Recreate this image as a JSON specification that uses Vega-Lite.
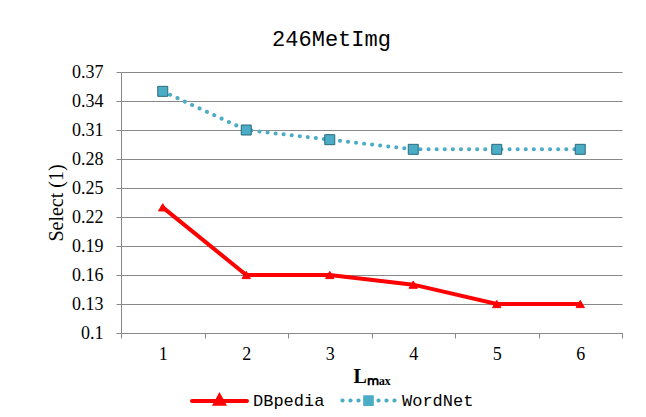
{
  "$schema": "https://vega.github.io/schema/vega-lite/v6.json",
  "autosize": "none",
  "width": 501,
  "height": 261,
  "padding": {"left": 121, "top": 72, "right": 24, "bottom": 84},
  "background": "white",
  "config": {"view": {"stroke": null}},
  "title": {
    "text": "246MetImg",
    "font": "Liberation Mono",
    "fontSize": 22,
    "fontWeight": "normal",
    "color": "black",
    "anchor": "middle",
    "baseline": "alphabetic",
    "offset": -5,
    "dx": -40
  },
  "data": {
    "values": [
      {"x": 1, "series": "DBpedia", "v": 0.23},
      {"x": 2, "series": "DBpedia", "v": 0.16},
      {"x": 3, "series": "DBpedia", "v": 0.16},
      {"x": 4, "series": "DBpedia", "v": 0.15},
      {"x": 5, "series": "DBpedia", "v": 0.13},
      {"x": 6, "series": "DBpedia", "v": 0.13},
      {"x": 1, "series": "WordNet", "v": 0.35},
      {"x": 2, "series": "WordNet", "v": 0.31},
      {"x": 3, "series": "WordNet", "v": 0.30},
      {"x": 4, "series": "WordNet", "v": 0.29},
      {"x": 5, "series": "WordNet", "v": 0.29},
      {"x": 6, "series": "WordNet", "v": 0.29}
    ]
  },
  "encoding": {
    "x": {
      "field": "x",
      "type": "ordinal",
      "scale": {"type": "band", "paddingInner": 0, "paddingOuter": 0},
      "axis": {
        "title": "Lₘₐₓ",
        "titleFont": "Liberation Serif",
        "titleFontSize": 20,
        "titleFontWeight": "bold",
        "titleColor": "black",
        "titlePadding": 3,
        "labelAngle": 0,
        "labelFont": "Liberation Serif",
        "labelFontSize": 18,
        "labelColor": "black",
        "labelPadding": 7,
        "tickBand": "extent",
        "tickSize": 5,
        "tickColor": "#888888",
        "domainColor": "#888888",
        "grid": false
      }
    },
    "y": {
      "field": "v",
      "type": "quantitative",
      "scale": {"domain": [0.1, 0.37], "nice": false, "zero": false},
      "axis": {
        "title": "Select (1)",
        "titleFont": "Liberation Serif",
        "titleFontSize": 20,
        "titleFontWeight": "normal",
        "titleColor": "black",
        "titlePadding": 5,
        "values": [0.1, 0.13, 0.16, 0.19, 0.22, 0.25, 0.28, 0.31, 0.34, 0.37],
        "format": ".2~f",
        "labelFont": "Liberation Serif",
        "labelFontSize": 18,
        "labelColor": "black",
        "labelPadding": 13,
        "tickSize": 5,
        "tickColor": "#888888",
        "domainColor": "#888888",
        "gridColor": "#888888",
        "grid": true
      }
    },
    "color": {
      "field": "series",
      "type": "nominal",
      "scale": {"domain": ["DBpedia", "WordNet"], "range": ["#FF0000", "#4BACC6"]},
      "legend": {
        "title": null,
        "orient": "none",
        "direction": "horizontal",
        "legendX": 69,
        "legendY": 299,
        "symbolSize": 3025,
        "symbolType": "stroke",
        "columnPadding": 9,
        "labelOffset": 4,
        "labelFont": "Liberation Mono",
        "labelFontSize": 17,
        "labelColor": "black",
        "encode": {
          "symbols": {
            "update": {
              "shape": {"signal": "datum.value === 'DBpedia' ? 'M-1,0L1,0M-0.15,0.1L0,-0.17L0.15,0.1Z' : 'M-0.95,0L-0.94,0M-0.66,0L-0.65,0M-0.37,0L-0.36,0M0.36,0L0.37,0M0.65,0L0.66,0M0.94,0L0.95,0M-0.12,-0.12L0.12,-0.12L0.12,0.12L-0.12,0.12Z'"},
              "size": {"value": 3025},
              "fill": {"signal": "datum.value === 'DBpedia' ? '#FF0000' : '#4BACC6'"},
              "stroke": {"signal": "datum.value === 'DBpedia' ? '#FF0000' : '#4BACC6'"},
              "strokeWidth": {"value": 4},
              "strokeCap": {"value": "round"},
              "strokeDash": {"signal": "[]"},
              "fillOpacity": {"value": 1},
              "opacity": {"value": 1}
            }
          }
        }
      }
    }
  },
  "layer": [
    {
      "transform": [{"filter": "datum.series === 'DBpedia'"}],
      "mark": {"type": "line", "strokeCap": "round", "strokeWidth": 4}
    },
    {
      "transform": [{"filter": "datum.series === 'WordNet'"}],
      "mark": {"type": "line", "strokeCap": "round", "strokeWidth": 4, "strokeDash": [0.1, 8]}
    },
    {
      "transform": [{"filter": "datum.series === 'DBpedia'"}],
      "mark": {"type": "point", "shape": "triangle-up", "size": 70, "filled": true, "fill": "#FF0000", "stroke": "#FF0000", "strokeWidth": 1, "opacity": 1},
      "encoding": {"color": {"value": null}}
    },
    {
      "transform": [{"filter": "datum.series === 'WordNet'"}],
      "mark": {"type": "point", "shape": "square", "size": 100, "filled": true, "fill": "#4BACC6", "stroke": "#2B6A7C", "strokeWidth": 1, "opacity": 1},
      "encoding": {"color": {"value": null}}
    }
  ]
}
